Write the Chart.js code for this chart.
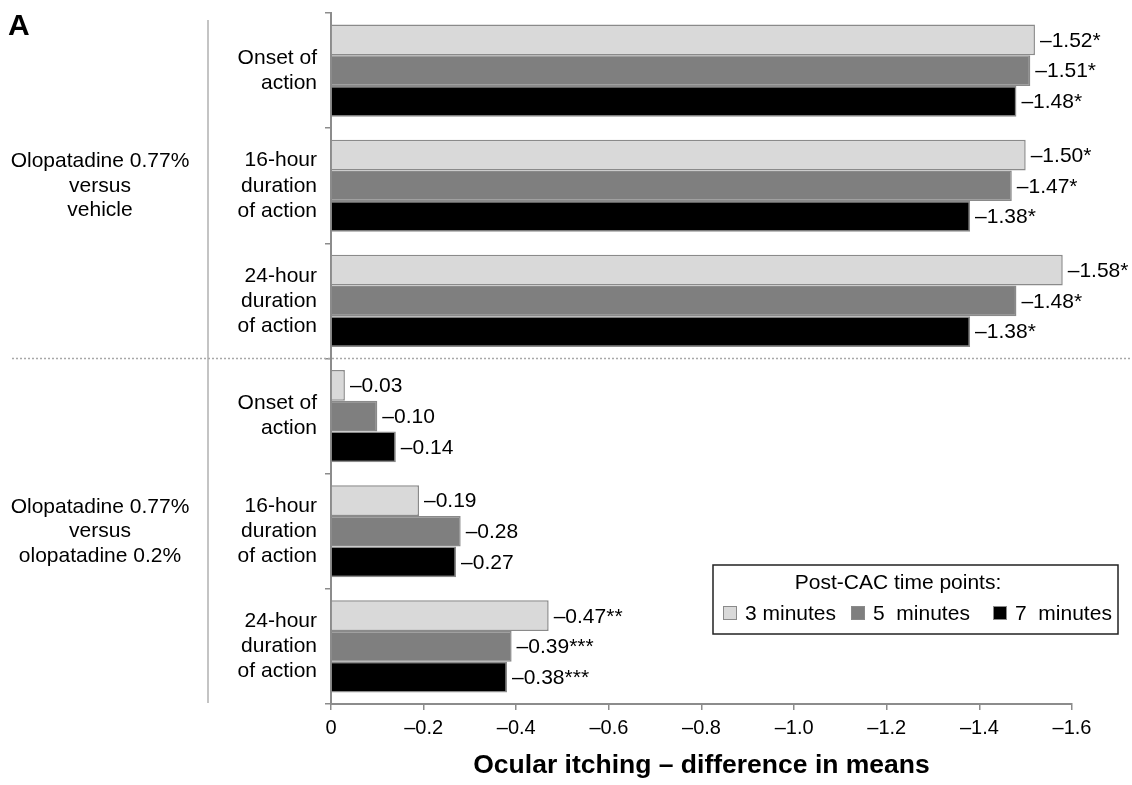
<!DOCTYPE html>
<html>
<head>
<meta charset="utf-8">
<script src="https://cdn.jsdelivr.net/npm/chart.js@4"></script>
<style>
  html, body { margin: 0; padding: 0; background: #fff; }
  canvas { display: block; }
</style>
</head>
<body>
<canvas id="chart" width="1132" height="785"></canvas>
<script>
const categories = [
    ['Onset of', 'action'],
    ['16-hour', 'duration', 'of action'],
    ['24-hour', 'duration', 'of action'],
    ['Onset of', 'action'],
    ['16-hour', 'duration', 'of action'],
    ['24-hour', 'duration', 'of action']
];
const groupNames = [
    ['Olopatadine 0.77%', 'versus', 'vehicle'],
    ['Olopatadine 0.77%', 'versus', 'olopatadine 0.2%']
];
const groupSizes = [3, 3];

const seriesNames = ['3 minutes', '5  minutes', '7  minutes'];
const min3 = [-1.52, -1.50, -1.58, -0.03, -0.19, -0.47];
const min5 = [-1.51, -1.47, -1.48, -0.10, -0.28, -0.39];
const min7 = [-1.48, -1.38, -1.38, -0.14, -0.27, -0.38];
const sig3 = ['*', '*', '*', '', '', '**'];
const sig5 = ['*', '*', '*', '', '', '***'];
const sig7 = ['*', '*', '*', '', '', '***'];

const FONT = "'Liberation Sans', Arial, sans-serif";
const AXIS_GRAY = '#8c8c8c';

function fmtTick(v) {
    if (Math.abs(v) < 1e-9) return '0';
    return '\u2013' + Math.abs(v).toFixed(1);
}

// value labels at the end of every bar
const barLabels = {
    id: 'barLabels',
    afterDatasetsDraw(chart) {
        const ctx = chart.ctx;
        ctx.save();
        ctx.font = '21px ' + FONT;
        ctx.fillStyle = '#000';
        ctx.textAlign = 'left';
        ctx.textBaseline = 'middle';
        chart.data.datasets.forEach((ds, i) => {
            const meta = chart.getDatasetMeta(i);
            meta.data.forEach((bar, j) => {
                const txt = '\u2013' + Math.abs(ds.data[j]).toFixed(2) + ds.sig[j];
                ctx.fillText(txt, bar.x + 5, bar.y + 1);
            });
        });
        ctx.restore();
    }
};

// group labels, separators, panel letter and boxed legend
const decorations = {
    id: 'decorations',
    afterDraw(chart) {
        const ctx = chart.ctx;
        const y = chart.scales.y;
        const area = chart.chartArea;
        ctx.save();

        // panel letter
        ctx.font = 'bold 30px ' + FONT;
        ctx.fillStyle = '#000';
        ctx.textAlign = 'left';
        ctx.textBaseline = 'middle';
        ctx.fillText('A', 8, 27);

        // vertical divider
        ctx.strokeStyle = '#c4c4c4';
        ctx.lineWidth = 2;
        ctx.beginPath();
        ctx.moveTo(208, 20);
        ctx.lineTo(208, area.bottom - 1);
        ctx.stroke();

        // group names + dotted separators
        ctx.font = '21px ' + FONT;
        ctx.textAlign = 'center';
        ctx.textBaseline = 'middle';
        let start = 0;
        groupNames.forEach((lines, g) => {
            const end = start + groupSizes[g] - 1;
            const cy = (y.getPixelForValue(start) + y.getPixelForValue(end)) / 2;
            const lh = 24.5;
            lines.forEach((ln, k) => {
                ctx.fillText(ln, 100, cy + (k - (lines.length - 1) / 2) * lh);
            });
            if (g < groupNames.length - 1) {
                const sy = (y.getPixelForValue(end) + y.getPixelForValue(end + 1)) / 2;
                ctx.strokeStyle = '#a8a8a8';
                ctx.lineWidth = 1.5;
                ctx.setLineDash([2, 2]);
                ctx.beginPath();
                ctx.moveTo(12, sy);
                ctx.lineTo(1132, sy);
                ctx.stroke();
                ctx.setLineDash([]);
            }
            start = end + 1;
        });

        // legend box
        const bx = 713, by = 565, bw = 405, bh = 69;
        ctx.strokeStyle = '#222';
        ctx.lineWidth = 1.5;
        ctx.strokeRect(bx, by, bw, bh);
        ctx.fillStyle = '#000';
        ctx.textAlign = 'center';
        ctx.fillText('Post-CAC time points:', 898, 583);
        const boxX = [723, 851, 993];
        ctx.textAlign = 'left';
        chart.data.datasets.forEach((ds, i) => {
            ctx.fillStyle = ds.backgroundColor;
            ctx.fillRect(boxX[i], 606, 14, 14);
            ctx.strokeStyle = ds.borderColor;
            ctx.lineWidth = 1;
            ctx.strokeRect(boxX[i] + 0.5, 606.5, 13, 13);
            ctx.fillStyle = '#000';
            ctx.fillText(ds.label, boxX[i] + 22, 614);
        });
        ctx.restore();
    }
};

const mkSet = (label, data, sig, color) => ({
    label: label,
    data: data,
    sig: sig,
    backgroundColor: color,
    borderColor: '#8a8a8a',
    borderWidth: 1.5,
    categoryPercentage: 0.8,
    barPercentage: 1.0
});

new Chart(document.getElementById('chart'), {
    type: 'bar',
    data: {
        labels: categories,
        datasets: [
            mkSet(seriesNames[0], min3, sig3, '#d9d9d9'),
            mkSet(seriesNames[1], min5, sig5, '#7f7f7f'),
            mkSet(seriesNames[2], min7, sig7, '#000000')
        ]
    },
    options: {
        indexAxis: 'y',
        responsive: false,
        animation: false,
        devicePixelRatio: 1,
        layout: { padding: { left: 0, right: 60, top: 13, bottom: 0 } },
        scales: {
            x: {
                min: -1.6,
                max: 0,
                reverse: true,
                afterFit(scale) {
                    scale.height = 81;
                    scale.paddingLeft = 0;
                    scale.paddingRight = 0;
                },
                ticks: {
                    stepSize: 0.2,
                    padding: 6,
                    color: '#000',
                    font: { family: FONT, size: 20 },
                    callback: v => fmtTick(v)
                },
                grid: { drawOnChartArea: false, tickLength: 6, color: AXIS_GRAY, lineWidth: 1.5 },
                border: { color: AXIS_GRAY, width: 2 },
                title: {
                    display: true,
                    text: 'Ocular itching \u2013 difference in means',
                    color: '#000',
                    font: { family: FONT, size: 26.5, weight: 'bold' },
                    padding: { top: 0, bottom: 3 }
                }
            },
            y: {
                afterFit(scale) {
                    scale.width = 331;
                    scale.paddingTop = 0;
                    scale.paddingBottom = 0;
                },
                ticks: {
                    padding: 8,
                    color: '#000',
                    font: { family: FONT, size: 21, lineHeight: 1.2 }
                },
                grid: { drawOnChartArea: false, tickLength: 6, color: AXIS_GRAY, lineWidth: 1.5 },
                border: { color: AXIS_GRAY, width: 2 }
            }
        },
        plugins: {
            legend: { display: false },
            tooltip: { enabled: false }
        }
    },
    plugins: [barLabels, decorations]
});
</script>
</body>
</html>
